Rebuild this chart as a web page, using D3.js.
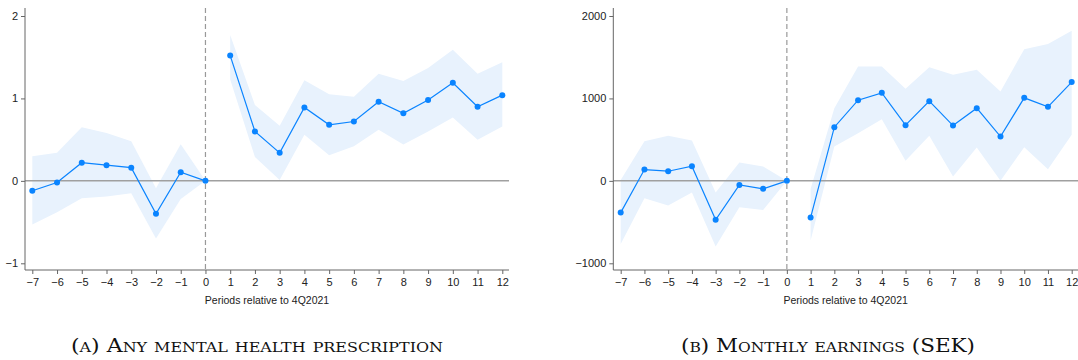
<!DOCTYPE html>
<html>
<head>
<meta charset="utf-8">
<script src="https://cdn.jsdelivr.net/npm/d3@7"></script>
<style>
body { margin: 0; background: #fff; }
svg { display: block; }
.tick text { font-family: "Liberation Sans", Arial, sans-serif; }
</style>
</head>
<body>
<script>
const periods = [-7, -6, -5, -4, -3, -2, -1, 0, 1, 2, 3, 4, 5, 6, 7, 8, 9, 10, 11, 12];

// panel A: any mental health prescription
const rxEst   = [-0.12, -0.02, 0.22, 0.19, 0.16, -0.40, 0.105, 0, 1.52, 0.60, 0.34, 0.89, 0.68, 0.72, 0.96, 0.82, 0.98, 1.19, 0.90, 1.04];
const rxUpper = [0.30, 0.34, 0.65, 0.58, 0.48, -0.09, 0.445, 0, 1.77, 0.92, 0.67, 1.22, 1.05, 1.02, 1.30, 1.21, 1.37, 1.59, 1.30, 1.44];
const rxLower = [-0.53, -0.38, -0.21, -0.19, -0.15, -0.70, -0.22, 0, 1.23, 0.29, 0.01, 0.56, 0.31, 0.42, 0.62, 0.44, 0.60, 0.77, 0.50, 0.66];

// panel B: monthly earnings (SEK)
const earnEst   = [-385, 137, 117, 178, -473, -49, -97, 0, -445, 651, 979, 1068, 676, 967, 671, 882, 538, 1007, 898, 1198];
const earnUpper = [10, 482, 546, 489, -142, 222, 174, 0, -100, 882, 1387, 1387, 1117, 1379, 1286, 1347, 1084, 1598, 1659, 1820];
const earnLower = [-765, -210, -300, -142, -797, -320, -352, 0, -724, 416, 579, 748, 243, 546, 53, 405, 0, 409, 142, 558];

const rxTicks = [-1, 0, 1, 2];
const earnTicks = [-1000, 0, 1000, 2000];
const xTitle = "Periods relative to 4Q2021";
const captions = ["(a) Any mental health prescription", "(b) Monthly earnings (SEK)"];

const svg = d3.select("body").append("svg")
    .attr("width", 1078)
    .attr("height", 360);

const blue = "#0a84ff";
const band = "#e8f2fd";
const axisCol = "#666";

function panel(cfg) {
    const x = d3.scaleLinear().domain([-7, 12]).range([cfg.x0, cfg.x1]);
    const y = d3.scaleLinear().domain([cfg.yTicks[0], cfg.yTicks[cfg.yTicks.length - 1]]).range([263.3, 16]);

    const rows = periods.map((k, i) => ({k: k, est: cfg.est[i], lo: cfg.lo[i], hi: cfg.hi[i]}));
    const groups = [rows.filter(d => d.k <= 0), rows.filter(d => d.k >= 1)];

    const g = svg.append("g");

    const area = d3.area()
        .x(d => x(d.k))
        .y0(d => y(d.lo))
        .y1(d => y(d.hi));

    g.selectAll("path.band")
        .data(groups)
        .enter()
        .append("path")
        .attr("class", "band")
        .attr("d", area)
        .style("fill", band);

    // zero line
    g.append("line")
        .attr("x1", cfg.axisX).attr("x2", cfg.axisEnd)
        .attr("y1", y(0)).attr("y2", y(0))
        .style("stroke", "#a0a0a0")
        .style("stroke-width", 1.5);

    // vertical dashed reference at 0
    g.append("line")
        .attr("x1", x(0)).attr("x2", x(0))
        .attr("y1", 8).attr("y2", 270)
        .style("stroke", "#999")
        .style("stroke-width", 1.2)
        .style("stroke-dasharray", "5,3");

    const line = d3.line()
        .x(d => x(d.k))
        .y(d => y(d.est));

    g.selectAll("path.est")
        .data(groups)
        .enter()
        .append("path")
        .attr("class", "est")
        .attr("d", line)
        .style("fill", "none")
        .style("stroke", blue)
        .style("stroke-width", 1.2);

    g.selectAll("circle")
        .data(rows)
        .enter()
        .append("circle")
        .attr("cx", d => x(d.k))
        .attr("cy", d => y(d.est))
        .attr("r", 3)
        .style("fill", blue);

    // axes
    const yAxis = g.append("g")
        .attr("transform", `translate(${cfg.axisX},0)`)
        .call(d3.axisLeft(y).tickValues(cfg.yTicks).tickSize(4).tickPadding(3).tickFormat(d3.format("d")));
    yAxis.select(".domain").attr("d", `M0,8V270`);

    const xAxis = g.append("g")
        .attr("transform", "translate(0,270)")
        .call(d3.axisBottom(x).tickValues(periods).tickSize(4).tickPadding(4).tickFormat(d3.format("d")));
    xAxis.select(".domain").attr("d", `M${cfg.axisX},0H${cfg.axisEnd}`);

    [yAxis, xAxis].forEach(a => {
        a.selectAll("path, line").style("stroke", axisCol);
        a.selectAll("text").style("font-size", "11px").style("fill", "#222");
    });

    g.append("text")
        .attr("x", (cfg.axisX + cfg.axisEnd) / 2)
        .attr("y", 304)
        .attr("text-anchor", "middle")
        .style("font-family", "'Liberation Sans', Arial, sans-serif")
        .style("font-size", "10.5px")
        .style("fill", "#222")
        .text(xTitle);

    svg.append("text")
        .attr("x", cfg.capX)
        .attr("y", 352)
        .attr("text-anchor", "middle")
        .attr("textLength", cfg.capW)
        .attr("lengthAdjust", "spacingAndGlyphs")
        .style("font-family", "'DejaVu Serif', 'Liberation Serif', serif")
        .style("font-variant", "small-caps")
        .style("font-size", "18px")
        .style("fill", "#111")
        .text(cfg.caption);
}

panel({x0: 32.3, x1: 502.3, axisX: 25, axisEnd: 509, yTicks: rxTicks,
    est: rxEst, lo: rxLower, hi: rxUpper, caption: captions[0], capX: 257, capW: 372});
panel({x0: 620.7, x1: 1071.7, axisX: 613.3, axisEnd: 1078, yTicks: earnTicks,
    est: earnEst, lo: earnLower, hi: earnUpper, caption: captions[1], capX: 828, capW: 294});
</script>
</body>
</html>
